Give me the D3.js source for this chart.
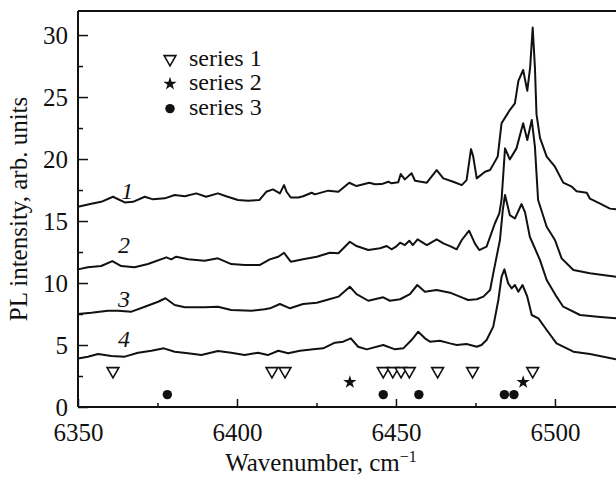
<!DOCTYPE html>
<html lang="en">
<head>
<meta charset="utf-8">
<title>PL spectra</title>
<style>
  body { margin: 0; background: #fff; }
  svg text { font-family: "Liberation Serif", "Times New Roman", Times, "DejaVu Serif", serif; fill: #111; }
  .curve { fill: none; stroke: #111; stroke-width: 2; stroke-linejoin: round; }
  .axis path, .axis line { stroke: #111; }
  .axis path { stroke-width: 2; }
  .axis line { stroke-width: 1.5; }
</style>
</head>
<body>
<svg id="chart" width="616" height="477" font-family="Liberation Serif, Times New Roman, serif"></svg>

<script src="https://d3js.org/d3.v7.min.js"></script>
<script>
// spectra: [wavenumber cm-1, PL intensity]
const curve1 = [
  [6350.0, 16.15], [6354.2, 16.4], [6357.3, 16.55], [6361.0, 16.96], [6364.7, 16.5],
  [6367.3, 16.55], [6371.0, 16.96], [6373.6, 16.75], [6377.3, 16.83], [6380.4, 17.1],
  [6383.6, 17.0], [6387.2, 17.23], [6390.3, 16.96], [6394.0, 17.23], [6396.6, 17.0],
  [6400.3, 16.7], [6403.5, 16.64], [6407.1, 16.7], [6409.2, 17.36], [6411.3, 17.55],
  [6413.5, 17.23], [6414.8, 17.9], [6415.6, 17.36], [6416.9, 16.9], [6419.3, 16.9],
  [6420.8, 17.0], [6423.5, 17.28], [6424.5, 17.15], [6428.7, 17.45], [6431.9, 17.36],
  [6435.3, 18.09], [6437.6, 17.82], [6441.6, 18.09], [6443.4, 17.96], [6445.5, 17.98],
  [6447.6, 18.17], [6448.6, 18.04], [6450.7, 18.12], [6451.5, 18.79], [6452.8, 18.36],
  [6454.9, 18.85], [6456.0, 18.25], [6459.7, 18.09], [6462.8, 19.11], [6464.9, 18.44],
  [6468.0, 18.17], [6470.7, 17.9], [6472.2, 18.3], [6473.6, 20.8], [6474.3, 20.2],
  [6475.4, 18.44], [6478.0, 18.98], [6479.6, 19.11], [6480.8, 19.65], [6482.0, 20.2],
  [6483.2, 22.88], [6485.8, 23.95], [6487.4, 24.49], [6488.5, 26.3], [6490.0, 27.18],
  [6491.3, 25.5], [6492.2, 27.4], [6493.0, 30.6], [6493.7, 27.4], [6494.2, 23.6],
  [6495.3, 21.7], [6497.4, 20.19], [6500.0, 19.38], [6502.6, 18.1], [6505.3, 17.77],
  [6506.8, 17.4], [6510.0, 17.28], [6511.0, 16.8], [6514.2, 16.4], [6517.3, 16.0],
  [6519.2, 15.94]
];

const curve2 = [
  [6350.0, 11.1], [6353.1, 11.27], [6357.3, 11.37], [6360.8, 11.77], [6363.6, 11.37],
  [6367.8, 11.27], [6372.0, 11.53], [6377.8, 12.07], [6379.3, 11.91], [6380.9, 12.12],
  [6384.6, 11.91], [6389.8, 11.8], [6394.0, 11.99], [6398.2, 11.53], [6402.4, 11.45],
  [6407.1, 11.45], [6410.3, 11.91], [6413.0, 12.12], [6414.8, 12.44], [6416.9, 11.72],
  [6420.8, 11.91], [6425.1, 12.12], [6429.2, 12.44], [6431.9, 12.4], [6435.5, 13.33],
  [6437.6, 12.98], [6441.3, 12.66], [6445.0, 12.8], [6447.1, 12.98], [6448.6, 12.72],
  [6450.0, 12.93], [6451.3, 13.25], [6452.8, 13.06], [6454.2, 13.41], [6455.3, 13.06],
  [6456.8, 13.52], [6459.7, 13.06], [6462.8, 13.52], [6464.9, 13.2], [6467.0, 12.98],
  [6469.1, 12.72], [6470.7, 13.47], [6473.0, 14.22], [6474.8, 13.2], [6476.2, 12.66],
  [6478.5, 12.93], [6481.1, 14.8], [6482.5, 15.62], [6483.2, 16.7], [6484.3, 20.86],
  [6485.8, 19.97], [6487.9, 20.86], [6490.0, 22.88], [6491.3, 21.53], [6492.7, 23.15],
  [6493.7, 21.0], [6494.7, 16.7], [6497.4, 14.54], [6500.0, 13.47], [6502.1, 11.99],
  [6505.8, 11.05], [6511.0, 10.78], [6519.2, 10.5]
];

const curve3 = [
  [6350.0, 7.5], [6354.2, 7.6], [6359.4, 7.77], [6362.6, 7.77], [6366.8, 7.69],
  [6371.0, 8.09], [6375.2, 8.49], [6377.5, 8.77], [6380.4, 8.23], [6383.6, 8.04],
  [6389.8, 8.04], [6394.0, 8.09], [6398.2, 7.82], [6404.5, 7.77], [6408.7, 7.88],
  [6410.4, 7.96], [6413.5, 8.31], [6416.7, 7.96], [6420.8, 8.31], [6425.1, 8.41],
  [6428.2, 8.63], [6431.9, 8.9], [6435.5, 9.7], [6437.6, 9.11], [6441.3, 8.57],
  [6446.0, 8.85], [6448.1, 8.57], [6451.3, 8.69], [6454.4, 9.11], [6456.7, 9.84],
  [6459.1, 9.3], [6462.8, 9.44], [6467.0, 9.22], [6470.1, 8.9], [6472.7, 8.63],
  [6475.4, 8.69], [6477.5, 8.9], [6479.6, 9.44], [6480.6, 10.78], [6482.7, 13.47],
  [6483.6, 15.9], [6484.3, 17.1], [6485.8, 15.48], [6487.4, 15.2], [6489.5, 16.37],
  [6490.6, 15.7], [6492.1, 13.73], [6495.3, 11.85], [6497.4, 10.24], [6500.5, 8.9],
  [6502.6, 8.09], [6507.9, 7.42], [6514.2, 7.26], [6519.2, 7.15]
];

const curve4 = [
  [6350.0, 3.92], [6353.1, 4.06], [6356.3, 4.27], [6360.5, 4.11], [6364.7, 4.06],
  [6368.9, 4.38], [6373.1, 4.54], [6377.0, 4.73], [6380.4, 4.46], [6384.6, 4.33],
  [6388.8, 4.19], [6394.0, 4.52], [6398.2, 4.38], [6402.4, 4.19], [6406.6, 4.38],
  [6409.7, 4.19], [6413.0, 4.54], [6416.1, 4.33], [6419.8, 4.54], [6424.0, 4.65],
  [6427.1, 4.73], [6430.8, 5.19], [6433.4, 5.27], [6435.8, 5.54], [6438.1, 4.86],
  [6440.8, 4.65], [6446.0, 5.0], [6449.7, 4.65], [6452.3, 4.73], [6454.9, 5.4],
  [6457.0, 6.07], [6459.1, 5.54], [6460.7, 5.27], [6463.8, 5.35], [6467.0, 5.13],
  [6469.1, 5.0], [6472.2, 5.08], [6475.4, 4.86], [6476.9, 5.0], [6478.5, 5.4],
  [6480.6, 6.48], [6482.2, 8.63], [6483.2, 10.5], [6484.1, 11.1], [6485.3, 9.97],
  [6486.4, 9.57], [6487.4, 9.84], [6488.5, 9.3], [6489.8, 9.84], [6491.3, 8.9],
  [6492.7, 7.42], [6494.8, 7.15], [6497.4, 6.21], [6500.5, 5.13], [6505.8, 4.46],
  [6511.0, 4.27], [6519.2, 3.85]
];

const curves = [curve1, curve2, curve3, curve4];
const curveNames = ['1', '2', '3', '4'];
const curveLabelAt = [[6365.5, 16.8], [6364.5, 12.4], [6364.5, 8.1], [6364.5, 4.8]];

// line positions marked below the spectra
const series1X = [6361.0, 6411.0, 6415.1, 6446.0, 6449.0, 6451.6, 6454.2, 6463.1, 6474.1, 6493.0];
const series1Y = 2.9;
const series2X = [6435.5, 6490.0];
const series2Y = 2.0;
const series3X = [6378.1, 6446.0, 6457.2, 6484.1, 6487.1];
const series3Y = 1.0;
const seriesNames = ['series 1', 'series 2', 'series 3'];

const xMajor = [6350, 6400, 6450, 6500];
const xMinor = [6375, 6425, 6475];
const yMajor = [0, 5, 10, 15, 20, 25, 30];
const yMinor = [2.5, 7.5, 12.5, 17.5, 22.5, 27.5];

const serif = '"Liberation Serif", "Times New Roman", Times, "DejaVu Serif", serif';
const svg = d3.select('#chart');
const plotLeft = 78, plotRight = 616, plotTop = 11, plotBottom = 407;

const x = d3.scaleLinear().domain([6350, 6519.2]).range([plotLeft, plotRight]);
const y = d3.scaleLinear().domain([0, 31.94]).range([plotBottom, plotTop]);

// frame line along the top
svg.append('line')
  .attr('x1', plotLeft).attr('x2', plotRight)
  .attr('y1', plotTop).attr('y2', plotTop)
  .attr('stroke', '#111').attr('stroke-width', 2);

// axes, ticks point inward
const xAxis = svg.append('g').attr('class', 'axis')
  .attr('transform', `translate(0,${plotBottom})`)
  .call(d3.axisBottom(x).tickValues(xMajor).tickSizeInner(-8).tickSizeOuter(0)
    .tickPadding(16).tickFormat(d3.format('d')));
svg.append('g').attr('class', 'axis')
  .attr('transform', `translate(0,${plotBottom})`)
  .call(d3.axisBottom(x).tickValues(xMinor).tickSizeInner(-4).tickSizeOuter(0)
    .tickFormat(''))
  .select('.domain').remove();

const yAxis = svg.append('g').attr('class', 'axis')
  .attr('transform', `translate(${plotLeft},0)`)
  .call(d3.axisLeft(y).tickValues(yMajor).tickSizeInner(-10).tickSizeOuter(0)
    .tickPadding(10));
svg.append('g').attr('class', 'axis')
  .attr('transform', `translate(${plotLeft},0)`)
  .call(d3.axisLeft(y).tickValues(yMinor).tickSizeInner(-5).tickSizeOuter(0)
    .tickFormat(''))
  .select('.domain').remove();

svg.selectAll('.axis').attr('font-family', serif).attr('font-size', 25);
svg.selectAll('.axis text').attr('fill', '#111');
xAxis.selectAll('.domain').attr('d', `M${plotLeft},0H${plotRight}`);
yAxis.selectAll('.domain').attr('d', `M0,${plotBottom}V${plotTop}`);

// spectra
const line = d3.line().x(d => x(d[0])).y(d => y(d[1]));
svg.append('g').selectAll('path')
  .data(curves)
  .join('path')
  .attr('class', 'curve')
  .attr('d', line);

svg.append('g').selectAll('text')
  .data(curveNames)
  .join('text')
  .attr('x', (d, i) => x(curveLabelAt[i][0]))
  .attr('y', (d, i) => y(curveLabelAt[i][1]))
  .attr('text-anchor', 'middle')
  .attr('font-size', 24)
  .attr('font-style', 'italic')
  .text(d => d);

// markers
const tri = d3.symbol().type(d3.symbolTriangle).size(60);
const star = d3.symbol().type(d3.symbolStar).size(55);
const dot = d3.symbol().type(d3.symbolCircle).size(70);

svg.append('g').selectAll('path')
  .data(series1X)
  .join('path')
  .attr('d', tri)
  .attr('transform', d => `translate(${x(d)},${y(series1Y)}) rotate(180)`)
  .attr('fill', '#fff').attr('stroke', '#111').attr('stroke-width', 1.6);

svg.append('g').selectAll('path')
  .data(series2X)
  .join('path')
  .attr('d', star)
  .attr('transform', d => `translate(${x(d)},${y(series2Y)})`)
  .attr('fill', '#111');

svg.append('g').selectAll('path')
  .data(series3X)
  .join('path')
  .attr('d', dot)
  .attr('transform', d => `translate(${x(d)},${y(series3Y)})`)
  .attr('fill', '#111');

// legend
const legend = svg.append('g').attr('transform', 'translate(170,59)');
const legendSymbols = [tri, star, dot];
const legendItem = legend.selectAll('g')
  .data(seriesNames)
  .join('g')
  .attr('transform', (d, i) => `translate(0,${i * 24.8})`);
legendItem.append('path')
  .attr('d', (d, i) => legendSymbols[i]())
  .attr('transform', (d, i) => i === 0 ? 'rotate(180)' : null)
  .attr('fill', (d, i) => i === 0 ? '#fff' : '#111')
  .attr('stroke', (d, i) => i === 0 ? '#111' : 'none')
  .attr('stroke-width', 1.6);
legendItem.append('text')
  .attr('x', 19)
  .attr('y', 6.5)
  .attr('font-size', 24)
  .text(d => d);

// axis titles
const xTitle = svg.append('text')
  .attr('x', 321)
  .attr('y', 471)
  .attr('text-anchor', 'middle')
  .attr('font-size', 25)
  .text('Wavenumber, cm');
xTitle.append('tspan')
  .attr('dy', '-0.55em')
  .attr('font-size', 16)
  .text('\u22121');

svg.append('text')
  .attr('transform', 'translate(27,209) rotate(-90)')
  .attr('text-anchor', 'middle')
  .attr('font-size', 25)
  .text('PL intensity, arb. units');
</script>
</body>
</html>
